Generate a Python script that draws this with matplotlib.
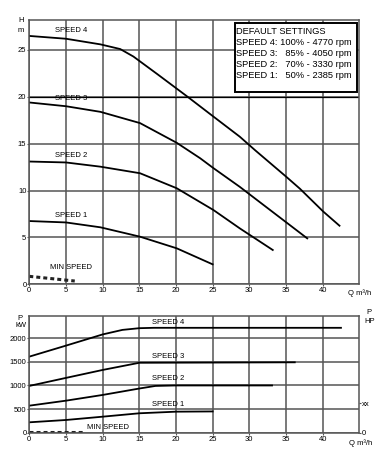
import matplotlib
matplotlib.use('Agg')
import matplotlib.pyplot as plt
from matplotlib.patches import Rectangle

plt.rcParams['font.family'] = ['Liberation Sans', 'DejaVu Sans']

# head curves H (m) vs Q (m3/h)
q_h4 = [0, 5, 9.7, 12.4, 14.2, 17.5, 21.6, 25.1, 28.7, 30.8, 35, 36.9, 40.1, 42.3]
h4 = [26.5, 26.2, 25.6, 25.1, 24.3, 22.4, 20.0, 17.9, 15.75, 14.3, 11.5, 10.2, 7.75, 6.25]
q_h3 = [0, 5, 9.7, 15.1, 20.1, 23.3, 25.1, 28.7, 37.9]
h3 = [19.4, 19.0, 18.4, 17.2, 15.1, 13.45, 12.4, 10.4, 4.9]
q_h2 = [0, 5, 9.7, 15.1, 20.1, 25.1, 28.7, 33.2]
h2 = [13.1, 13.0, 12.55, 11.85, 10.25, 7.93, 5.97, 3.66]
q_h1 = [0, 5, 9.7, 15.1, 20.1, 25]
h1 = [6.75, 6.6, 6.08, 5.08, 3.84, 2.13]
q_hmin = [0, 6.2]
hmin = [0.85, 0.35]

# power curves P (kW) vs Q
q_p4 = [0, 5, 10, 12.7, 15, 17, 42.5]
p4 = [1610, 1843, 2080, 2176, 2212, 2220, 2220]
q_p3 = [0, 5, 10, 15, 36.2]
p3 = [990, 1160, 1328, 1480, 1490]
q_p2 = [0, 5, 10, 15, 17.2, 20, 33.1]
p2 = [572, 678, 799, 935, 990, 1000, 1000]
q_p1 = [0, 5, 10, 15, 20, 25]
p1 = [220, 269, 339, 411, 445, 450]
q_pmin = [0, 7.3]
pmin = [20, 20]

x_ticks = [0, 5, 10, 15, 20, 25, 30, 35, 40]
h_ticks = [0, 5, 10, 15, 20, 25]
p_ticks = [0, 500, 1000, 1500, 2000]
hp_ticks = [0, 620]
hp_labels = ['0', 'xx']

settings = ['DEFAULT SETTINGS',
            'SPEED 4: 100% - 4770 rpm',
            'SPEED 3:   85% - 4050 rpm',
            'SPEED 2:   70% - 3330 rpm',
            'SPEED 1:   50% - 2385 rpm']

W, H = 392, 461
fig = plt.figure(figsize=(W / 100, H / 100), dpi=100)
gcol = '#555555'
lw = 1.3
fs = 5.5
lfs = 5.5


def px(x, y):
    return x / W, 1 - y / H


def style(ax, yticks, xmax, ymax):
    ax.set_xlim(0, xmax)
    ax.set_ylim(0, ymax)
    ax.set_xticks(x_ticks)
    ax.set_yticks(yticks)
    ax.grid(True, color=gcol, lw=1.1)
    ax.set_axisbelow(True)
    for s in ax.spines.values():
        s.set_color(gcol)
        s.set_linewidth(1.1)
    ax.tick_params(labelsize=fs, length=1.5, pad=0.6, color=gcol, width=0.8)


# ---- head chart
ax1 = fig.add_axes([29.3 / W, 1 - 284.3 / H, 330 / W, 264.3 / H])
style(ax1, h_ticks, 45, 28.2)
ax1.axhline(20, color='black', lw=0.9, zorder=1.5)
for q, h in [(q_h4, h4), (q_h3, h3), (q_h2, h2), (q_h1, h1)]:
    ax1.plot(q, h, color='black', lw=lw, solid_joinstyle='round')
ax1.plot(q_hmin, hmin, color='#222222', lw=2.2, dashes=(1.3, 1.0))
for y, t in [(27.1, 'SPEED 4'), (19.85, 'SPEED 3'), (13.7, 'SPEED 2'), (7.3, 'SPEED 1')]:
    ax1.text(3.5, y, t, fontsize=lfs, va='center', ha='left')
ax1.text(2.8, 1.8, 'MIN SPEED', fontsize=lfs, va='center', ha='left')

ax1.add_patch(Rectangle((28.0, 20.5), 16.7, 7.35, fill=True, facecolor='white',
                        edgecolor='black', lw=1.4, zorder=3))
ax1.text(28.2, 27.5, '\n'.join(settings), fontsize=6.7, va='top', ha='left',
         linespacing=1.3, zorder=4)

fig.text(*px(20.7, 20.7), 'H', fontsize=fs, ha='center', va='center')
fig.text(*px(20.7, 30.7), 'm', fontsize=fs, ha='center', va='center')
fig.text(*px(359.7, 292.7), 'Q m³/h', fontsize=fs, ha='center', va='center')

# ---- power chart
ax2 = fig.add_axes([29.3 / W, 1 - 432.7 / H, 330 / W, 116.7 / H])
style(ax2, p_ticks, 45, 2470)
for q, p in [(q_p4, p4), (q_p3, p3), (q_p2, p2), (q_p1, p1)]:
    ax2.plot(q, p, color='black', lw=lw, solid_joinstyle='round')
ax2.plot(q_pmin, pmin, color='#222222', lw=2.2, dashes=(1.3, 1.0))
for y, t in [(2338, 'SPEED 4'), (1610, 'SPEED 3'), (1138, 'SPEED 2'), (587, 'SPEED 1')]:
    ax2.text(16.7, y, t, fontsize=lfs, va='center', ha='left')
ax2.text(7.9, 114, 'MIN SPEED', fontsize=lfs, va='center', ha='left')

ax3 = ax2.twinx()
ax3.set_ylim(0, 2470)
ax3.set_yticks(hp_ticks)
ax3.set_yticklabels(hp_labels)
ax3.tick_params(labelsize=fs, length=1.5, pad=0.6, color=gcol, width=0.8)
for s in ax3.spines.values():
    s.set_visible(False)

fig.text(*px(20, 318), 'P', fontsize=fs, ha='center', va='center')
fig.text(*px(20.7, 325), 'kW', fontsize=fs, ha='center', va='center')
fig.text(*px(369.3, 312.3), 'P', fontsize=fs, ha='center', va='center')
fig.text(*px(369.3, 321.7), 'HP', fontsize=fs, ha='center', va='center')
fig.text(*px(361, 443.5), 'Q m³/h', fontsize=fs, ha='center', va='center')

fig.savefig('out.png', dpi=100)
